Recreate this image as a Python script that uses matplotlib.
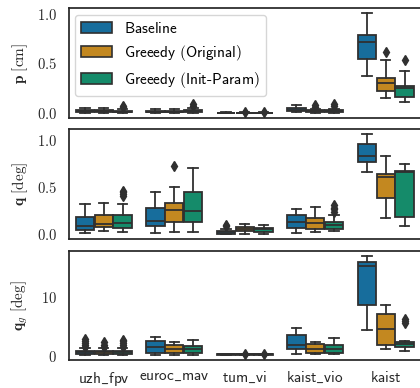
import matplotlib
matplotlib.use("Agg")
import matplotlib.pyplot as plt
from matplotlib.patches import Patch
import seaborn as sns
import colorsys

plt.rcParams['font.family'] = 'serif'
plt.rcParams['font.serif'] = ['cmr10']
plt.rcParams['mathtext.fontset'] = 'cm'
plt.rcParams['axes.formatter.use_mathtext'] = True

# ---- data (box stats) ----
datasets = ['uzh_fpv', 'euroc_mav', 'tum_vi', 'kaist_vio', 'kaist']
methods = ['Baseline', 'Greeedy (Original)', 'Greeedy (Init-Param)']

# each entry: (whislo, q1, med, q3, whishi, fliers)
p_cm = [
    [(0.0, 0.01, 0.02, 0.03, 0.055, []), (0.0, 0.01, 0.018, 0.028, 0.05, []), (0.0, 0.01, 0.015, 0.025, 0.04, [0.06, 0.07])],
    [(0.0, 0.008, 0.015, 0.025, 0.04, []), (0.0, 0.008, 0.015, 0.025, 0.04, []), (0.0, 0.01, 0.02, 0.03, 0.05, [0.07, 0.09])],
    [(0.002, 0.003, 0.004, 0.005, 0.006, []), (0.002, 0.003, 0.004, 0.005, 0.006, [0.012]), (0.002, 0.003, 0.004, 0.005, 0.006, [0.012])],
    [(0.01, 0.02, 0.035, 0.05, 0.08, []), (0.0, 0.01, 0.02, 0.03, 0.045, [0.065, 0.08]), (0.0, 0.01, 0.02, 0.03, 0.045, [0.07, 0.09])],
    [(0.37, 0.54, 0.71, 0.785, 1.007, []), (0.15, 0.22, 0.30, 0.35, 0.53, [0.61]), (0.11, 0.16, 0.25, 0.27, 0.42, [0.53])],
]
q_deg = [
    [(0.015, 0.04, 0.09, 0.18, 0.32, []), (0.03, 0.07, 0.11, 0.20, 0.33, []), (0.02, 0.065, 0.115, 0.20, 0.32, [0.40, 0.42, 0.44, 0.46])],
    [(0.01, 0.085, 0.14, 0.28, 0.45, []), (0.02, 0.13, 0.25, 0.33, 0.50, [0.72]), (0.02, 0.13, 0.24, 0.445, 0.70, [])],
    [(0.0, 0.005, 0.02, 0.035, 0.05, [0.08, 0.1]), (0.0, 0.028, 0.053, 0.075, 0.11, []), (0.003, 0.025, 0.05, 0.067, 0.10, [])],
    [(0.01, 0.065, 0.125, 0.205, 0.26, []), (0.017, 0.055, 0.12, 0.165, 0.29, []), (0.028, 0.053, 0.10, 0.125, 0.205, [0.23, 0.26, 0.28, 0.31])],
    [(0.66, 0.76, 0.83, 0.955, 1.06, []), (0.165, 0.38, 0.605, 0.64, 0.83, []), (0.09, 0.175, 0.655, 0.665, 0.745, [])],
]
qg_deg = [
    [(0.2, 0.3, 0.6, 0.85, 1.3, [1.6, 1.9, 2.2, 2.5, 2.8]), (0.2, 0.35, 0.6, 0.85, 1.3, [1.6, 1.9, 2.3]), (0.2, 0.35, 0.6, 0.85, 1.3, [1.6, 1.9, 2.2, 2.5, 2.7])],
    [(0.15, 0.45, 1.45, 2.6, 3.15, []), (0.15, 0.45, 1.2, 1.85, 2.4, []), (0.15, 0.55, 1.1, 1.7, 2.7, [])],
    [(0.2, 0.22, 0.25, 0.28, 0.3, []), (0.2, 0.22, 0.25, 0.28, 0.3, [0.4]), (0.2, 0.22, 0.25, 0.28, 0.3, [0.4])],
    [(0.3, 1.1, 1.85, 3.5, 4.8, []), (0.3, 0.45, 1.2, 2.0, 2.3, []), (0.3, 0.55, 1.2, 1.85, 3.1, [])],
    [(4.4, 8.7, 15.35, 15.9, 17.0, []), (1.1, 1.85, 4.5, 7.2, 8.6, []), (0.85, 1.55, 2.0, 2.35, 2.5, [5.6, 5.9, 6.2])],
]
panels = [p_cm, q_deg, qg_deg]
ylabels = [r'$\mathbf{p}\ [\mathrm{cm}]$', r'$\mathbf{q}\ [\mathrm{deg}]$', r'$\mathbf{q}_g\ [\mathrm{deg}]$']
yticks = [[0.0, 0.5, 1.0], [0.0, 0.5, 1.0], [0, 10]]


def sans(s):
    # sans-serif (cmss) label via mathtext; keep plain hyphens outside math
    parts = s.split('-')
    out = []
    for p in parts:
        p = p.replace('_', r'\_').replace(' ', r'\ ')
        out.append(r'$\mathsf{' + p + '}$')
    return '-'.join(out)


# seaborn-like colours
colors = [sns.desaturate(c, 0.75) for c in sns.color_palette('colorblind', 3)]
lum = min(colorsys.rgb_to_hls(*c)[1] for c in colors) * 0.6
gray = (lum, lum, lum)

W, H = 420, 388
fig = plt.figure(figsize=(W / 100, H / 100), dpi=100)
boxes_px = [(8, 118), (129, 239), (251, 360)]
left, right = 68.5, 421
axes = []
for top, bot in boxes_px:
    ax = fig.add_axes([left / W, (H - bot) / H, (right - left) / W, (bot - top) / H])
    axes.append(ax)

bw = 0.8 / 3
for k, ax in enumerate(axes):
    data = panels[k]
    for i in range(len(datasets)):
        for j in range(3):
            lo, q1, med, q3, hi, fl = data[i][j]
            st = dict(whislo=lo, q1=q1, med=med, q3=q3, whishi=hi, fliers=fl)
            ax.bxp([st], positions=[i + (j - 1) * bw], widths=bw * 0.98,
                   patch_artist=True, manage_ticks=False,
                   boxprops=dict(facecolor=colors[j], edgecolor=gray, linewidth=1.3),
                   medianprops=dict(color=gray, linewidth=1.3),
                   whiskerprops=dict(color=gray, linewidth=1.3),
                   capprops=dict(color=gray, linewidth=1.3),
                   flierprops=dict(marker='d', markerfacecolor=gray, markeredgecolor=gray, markersize=5))
    ax.set_xlim(-0.5, len(datasets) - 0.5)
    ax.set_yticks(yticks[k])
    ax.tick_params(axis='y', length=0, labelsize=10.5, pad=8.5, colors='0.15')
    ax.tick_params(axis='x', length=0, labelsize=11, pad=7, colors='0.15')
    ax.set_ylabel(ylabels[k], fontsize=11, color='0.15')
    ax.yaxis.set_label_coords(-0.108, 0.5)
    for s in ax.spines.values():
        s.set_color('0.15')
        s.set_linewidth(1.25)
    ax.set_xticks(range(len(datasets)))
    if k < 2:
        ax.set_xticklabels([])
    else:
        ax.set_xticklabels([sans(d) for d in datasets])

handles = [Patch(facecolor=colors[j], edgecolor=gray, linewidth=1.2) for j in range(3)]
leg = axes[0].legend(handles, [sans(m) for m in methods],
                     loc='upper left', fontsize=11, frameon=True, fancybox=True,
                     edgecolor='0.8', framealpha=0.8, labelspacing=0.45,
                     handlelength=2.0, handleheight=0.7, borderaxespad=0.45)

fig.savefig('out.png', dpi=100)
